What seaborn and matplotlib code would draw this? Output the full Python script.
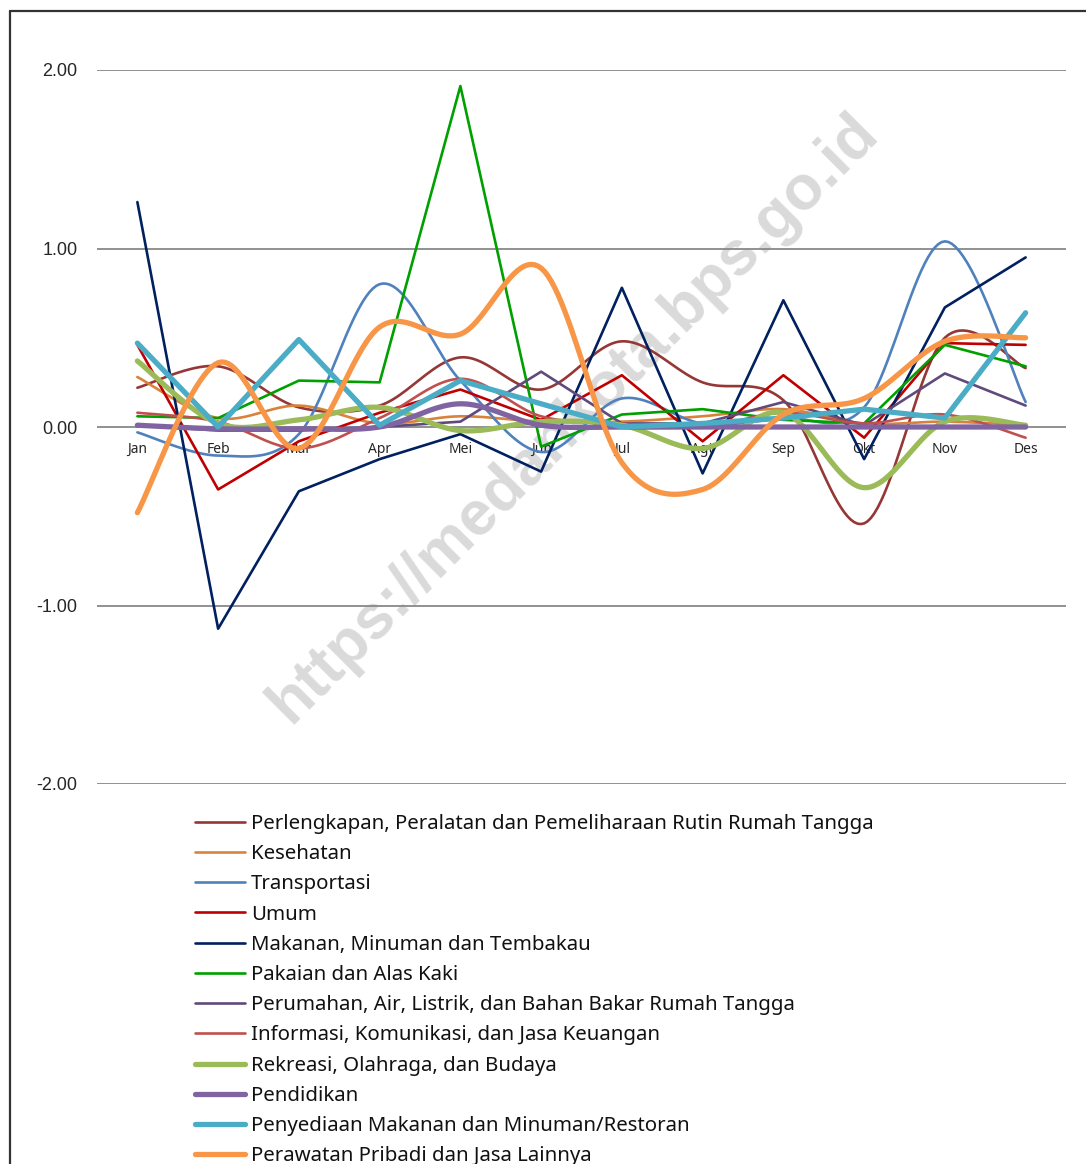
import numpy as np
import seaborn as sns
import matplotlib.pyplot as plt
from matplotlib.lines import Line2D

bulan = ['Jan', 'Feb', 'Mar', 'Apr', 'Mei', 'Jun', 'Jul', 'Agt', 'Sep', 'Okt', 'Nov', 'Des']

perlengkapan = [0.22, 0.34, 0.11, 0.12, 0.39, 0.21, 0.48, 0.25, 0.15, -0.54, 0.50, 0.33]
kesehatan = [0.28, 0.05, 0.12, 0.02, 0.06, 0.03, 0.03, 0.06, 0.10, 0.02, 0.03, 0.01]
transportasi = [-0.03, -0.16, -0.04, 0.80, 0.26, -0.14, 0.16, 0.02, 0.05, 0.11, 1.04, 0.14]
umum = [0.46, -0.35, -0.08, 0.08, 0.21, 0.04, 0.29, -0.08, 0.29, -0.06, 0.47, 0.46]
makanan = [1.26, -1.13, -0.36, -0.18, -0.04, -0.25, 0.78, -0.26, 0.71, -0.18, 0.67, 0.95]
pakaian = [0.06, 0.05, 0.26, 0.25, 1.91, -0.11, 0.07, 0.10, 0.04, 0.02, 0.46, 0.34]
perumahan = [0.01, -0.02, -0.02, 0.00, 0.03, 0.31, 0.02, 0.02, 0.14, 0.01, 0.30, 0.12]
informasi = [0.08, 0.03, -0.12, 0.05, 0.27, 0.06, 0.02, 0.00, 0.08, 0.02, 0.07, -0.06]
rekreasi = [0.37, 0.02, 0.04, 0.11, -0.02, 0.03, 0.01, -0.12, 0.08, -0.34, 0.03, 0.01]
pendidikan = [0.01, -0.01, -0.01, 0.00, 0.13, 0.01, 0.00, 0.00, 0.00, 0.00, 0.00, 0.00]
penyediaan = [0.47, 0.00, 0.49, 0.01, 0.26, 0.13, 0.00, 0.02, 0.05, 0.10, 0.05, 0.64]
perawatan = [-0.48, 0.36, -0.12, 0.56, 0.52, 0.89, -0.20, -0.35, 0.07, 0.16, 0.48, 0.50]

# (label, values, colour, width in pt, smoothed like excel)
seri = [
    ('Perlengkapan, Peralatan dan Pemeliharaan Rutin Rumah Tangga', perlengkapan, '#953735', 1.9, True),
    ('Kesehatan', kesehatan, '#D9823B', 1.9, True),
    ('Transportasi', transportasi, '#4F81BD', 1.9, True),
    ('Umum', umum, '#C00000', 1.9, False),
    ('Makanan, Minuman dan Tembakau', makanan, '#002060', 1.9, False),
    ('Pakaian dan Alas Kaki', pakaian, '#00A000', 1.9, False),
    ('Perumahan, Air, Listrik, dan Bahan Bakar Rumah Tangga', perumahan, '#604A7B', 1.9, False),
    ('Informasi, Komunikasi, dan Jasa Keuangan', informasi, '#C0504D', 1.9, True),
    ('Rekreasi, Olahraga, dan Budaya', rekreasi, '#9BBB59', 3.8, True),
    ('Pendidikan', pendidikan, '#8064A2', 3.8, True),
    ('Penyediaan Makanan dan Minuman/Restoran', penyediaan, '#4BACC6', 3.8, False),
    ('Perawatan Pribadi dan Jasa Lainnya', perawatan, '#F79646', 3.8, True),
]


def smooth(vals, n=25):
    # bezier smoothing the way excel draws "smoothed line"
    p = np.column_stack([np.arange(len(vals)), vals]).astype(float)
    pe = np.vstack([p[0], p, p[-1]])
    t = np.linspace(0, 1, n)[:, None]
    out = []
    for i in range(len(vals) - 1):
        p0, p1, p2, p3 = pe[i], pe[i + 1], pe[i + 2], pe[i + 3]
        b1 = p1 + (p2 - p0) / 6
        b2 = p2 - (p3 - p1) / 6
        seg = (1 - t) ** 3 * p1 + 3 * (1 - t) ** 2 * t * b1 + 3 * (1 - t) * t ** 2 * b2 + t ** 3 * p2
        out.append(seg if i == 0 else seg[1:])
    return np.vstack(out)


sns.set_style('white')
plt.rcParams['font.family'] = ['Noto Sans', 'DejaVu Sans']

fig = plt.figure(figsize=(10.86, 11.64), dpi=100)
ax = fig.add_axes([97 / 1086, 1 - 784 / 1164, 969 / 1086, 714 / 1164])

ax.text(5.4, 0.05, 'https://medankota.bps.go.id', rotation=45, ha='center', va='center',
        fontsize=45, fontweight='bold', color='#DADADA', family='Liberation Sans', zorder=0)

for lab, vals, col, lw, sm in seri:
    if sm:
        pts = smooth(vals)
        sns.lineplot(x=pts[:, 0], y=pts[:, 1], sort=False, estimator=None, color=col,
                     lw=lw, label=lab, ax=ax, zorder=3)
    else:
        sns.lineplot(x=np.arange(len(vals)), y=vals, sort=False, estimator=None, color=col,
                     lw=lw, label=lab, ax=ax, zorder=3)

ax.set_xlim(-0.5, 11.5)
ax.set_ylim(-2, 2)
ax.set_yticks([-2, -1, 0, 1, 2])
ax.set_yticklabels(['-2.00', '-1.00', '0.00', '1.00', '2.00'], fontsize=13,
                   family='Liberation Sans')
ax.set_xticks(range(12))
ax.set_xticklabels(bulan, fontsize=7.8)
ax.grid(axis='y', color='#888888', lw=1.3)
ax.set_axisbelow(True)
for s in ['top', 'right', 'left', 'bottom']:
    ax.spines[s].set_visible(False)
ax.spines['bottom'].set_position(('data', 0))
ax.tick_params(axis='x', length=0, pad=10.5)
ax.tick_params(axis='y', length=0, pad=14)
ax.set_xlabel('')
ax.set_ylabel('')

h, l = ax.get_legend_handles_labels()
ax.get_legend().remove()
fig.legend(h, l, loc='upper left', bbox_to_anchor=(195 / 1086, 1 - 814 / 1164), frameon=False,
           fontsize=14.7, handlelength=2.45, handletextpad=0.3, labelspacing=0.5,
           borderaxespad=0, borderpad=0, labelcolor='#111111')

# chart-area border, only top and left edges visible in the crop
fig.add_artist(Line2D([10 / 1086, 1], [1 - 11 / 1164, 1 - 11 / 1164], color='#333333', lw=1.6,
                      transform=fig.transFigure))
fig.add_artist(Line2D([10 / 1086, 10 / 1086], [0, 1 - 11 / 1164], color='#333333', lw=1.6,
                      transform=fig.transFigure))

plt.savefig('out.png', dpi=100)
